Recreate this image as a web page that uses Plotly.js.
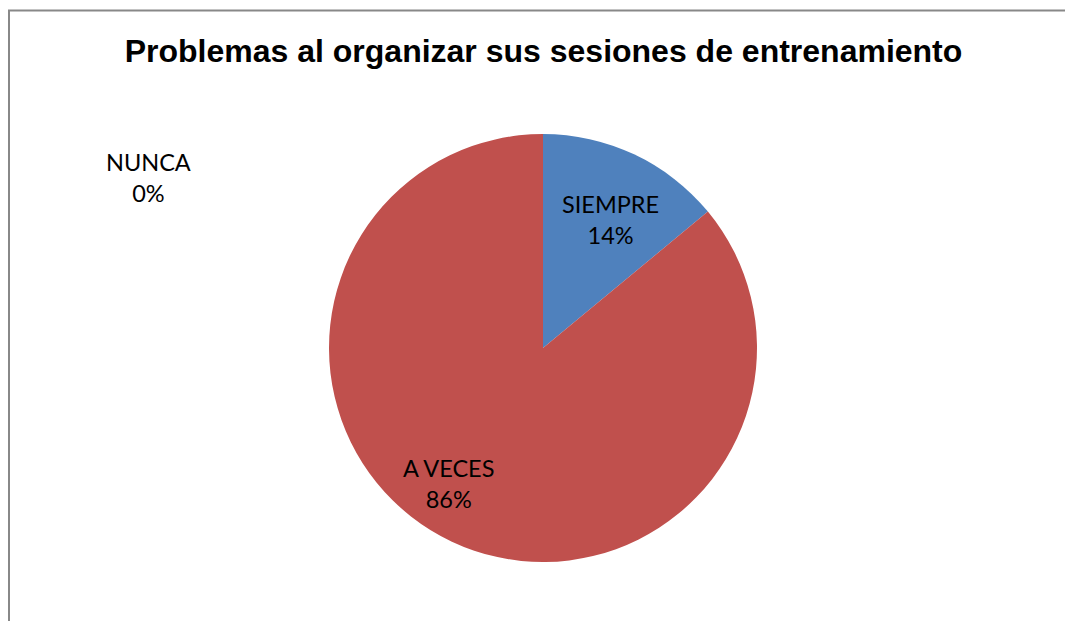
<!DOCTYPE html>
<html>
<head>
<meta charset="utf-8">
<script src="https://cdn.plot.ly/plotly-3.0.1.min.js"></script>
<style>
  html, body { margin: 0; padding: 0; background: #fff; }
  #chart { width: 1065px; height: 621px; }
</style>
</head>
<body>
<div id="chart"></div>
<script>
const categories = ["SIEMPRE", "A VECES", "NUNCA"];
const values = [14, 86, 0];
const colors = ["#4F81BD", "#C0504D", "#9BBB59"];
const chartTitle = "Problemas al organizar sus sesiones de entrenamiento";

const W = 1065, H = 621;
// label anchor positions (pixels) for each category's data label
const labelPos = [[610, 219], [448, 483], [148, 178]];

const total = values.reduce((a, b) => a + b, 0);
const annotations = categories.map((c, i) => ({
  text: c + "<br>" + Math.round(values[i] / total * 100) + "%",
  xref: "paper", yref: "paper",
  x: labelPos[i][0] / W, y: 1 - labelPos[i][1] / H,
  xanchor: "center", yanchor: "middle",
  showarrow: false,
  align: "center",
  font: { family: "Lato, 'Noto Sans', sans-serif", size: 23.5, color: "#000" }
}));

const cx = 543, cy = 348, r = 214;
const trace = {
  type: "pie",
  labels: categories,
  values: values,
  sort: false,
  direction: "clockwise",
  rotation: 0,
  marker: { colors: colors, line: { width: 0 } },
  textinfo: "none",
  hoverinfo: "label+percent",
  showlegend: false,
  domain: {
    x: [(cx - r) / W, (cx + r) / W],
    y: [(H - cy - r) / H, (H - cy + r) / H]
  }
};

const layout = {
  width: W, height: H,
  margin: { l: 0, r: 0, t: 0, b: 0 },
  paper_bgcolor: "#fff",
  showlegend: false,
  title: {
    text: "<b>" + chartTitle + "</b>",
    x: 543.5 / W, xanchor: "center",
    y: 1 - 51 / H, yanchor: "middle",
    font: { family: "'Liberation Sans', Arial, sans-serif", size: 32, color: "#000" }
  },
  annotations: annotations,
  shapes: [{
    type: "rect", xref: "paper", yref: "paper",
    x0: 9 / W, x1: 1.05, y0: -0.05, y1: 1 - 10.5 / H,
    line: { color: "#888888", width: 2 },
    fillcolor: "rgba(0,0,0,0)"
  }]
};

Plotly.newPlot("chart", [trace], layout, { displayModeBar: false, staticPlot: true });
</script>
</body>
</html>
